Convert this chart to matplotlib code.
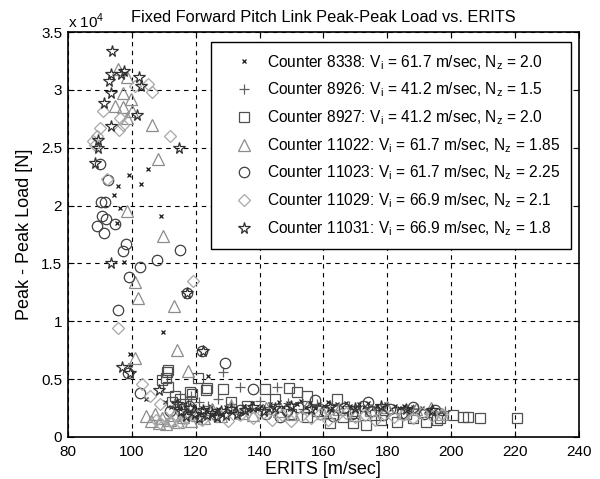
import matplotlib
matplotlib.use('Agg')
import matplotlib.pyplot as plt

plt.rcParams['font.family'] = ['Liberation Sans', 'DejaVu Sans']
plt.rcParams['mathtext.fontset'] = 'custom'
plt.rcParams['mathtext.rm'] = 'Liberation Sans'

# peak-peak load is in units of 1e4 N (axis shows "x 10^4")
c8338_x = [105.2, 99.3, 102.9, 95.8, 94.5, 96.3, 109.2, 95.5, 97.7, 109.9, 99.5, 124.0, 99.6, 104.5,
           110.5, 112.3, 113.8, 115.2, 116.7, 118.1, 119.4, 120.6, 121.9, 123.1, 124.4, 125.8, 127.0,
           128.3, 129.5, 130.9, 132.2, 133.6, 135.0, 136.3, 137.8, 139.1, 140.5, 141.9, 143.2, 144.6,
           146.1, 147.5, 148.8, 150.3, 151.7, 153.0, 154.4, 155.9, 157.3, 158.6, 160.1, 161.5, 162.8,
           164.3, 165.7, 167.1, 168.4, 169.9, 171.2, 172.6, 174.0, 175.5, 176.8, 178.2, 179.6, 181.1,
           182.4, 183.8, 185.3, 186.6, 188.0, 189.5, 190.8, 192.2, 193.7, 195.0, 196.4, 197.9]
c8338_y = [2.32, 2.26, 2.19, 2.17, 2.09, 1.98, 1.91, 1.85, 1.51, 0.91, 0.72, 0.53, 0.62, 0.33,
           0.30, 0.26, 0.31, 0.24, 0.28, 0.22, 0.27, 0.20, 0.25, 0.23, 0.27, 0.21, 0.24,
           0.19, 0.26, 0.22, 0.25, 0.20, 0.27, 0.23, 0.29, 0.24, 0.27, 0.22, 0.28, 0.25,
           0.30, 0.26, 0.29, 0.24, 0.28, 0.31, 0.26, 0.29, 0.25, 0.28, 0.27, 0.30, 0.25,
           0.28, 0.26, 0.29, 0.27, 0.25, 0.28, 0.26, 0.29, 0.25, 0.27, 0.26, 0.28, 0.24,
           0.27, 0.25, 0.27, 0.24, 0.26, 0.23, 0.25, 0.22, 0.24, 0.21, 0.23, 0.20]

c8926_x = [128.5, 134.0, 145.5, 118.5, 121.0, 124.0, 127.0, 131.0, 137.0, 140.0, 143.0, 149.0,
           153.5, 158.0, 163.0, 168.0, 173.0, 178.0, 183.0, 188.0, 193.0, 198.0]
c8926_y = [0.56, 0.435, 0.43, 0.35, 0.30, 0.27, 0.33, 0.28, 0.25, 0.31, 0.26, 0.29,
           0.24, 0.28, 0.23, 0.27, 0.22, 0.25, 0.21, 0.24, 0.20, 0.22]

c8927_x = [111.1, 110.7, 109.4, 111.5, 113.5, 118.2, 115.0, 120.8, 123.4, 123.5, 128.7, 141.7,
           149.3, 151.6, 154.8, 164.2, 196.5, 200.7, 203.8, 205.4, 209.0, 220.7, 162.1, 169.4,
           173.4, 178.1, 195.4, 131.0, 136.0, 145.0, 158.0, 166.0, 183.0, 188.0, 192.0, 186.0,
           176.0, 170.0, 155.0, 150.0, 112.5, 116.0, 119.0, 111.5]
c8927_y = [0.56, 0.51, 0.49, 0.43, 0.35, 0.39, 0.33, 0.51, 0.405, 0.42, 0.41, 0.41,
           0.42, 0.39, 0.35, 0.325, 0.16, 0.19, 0.175, 0.17, 0.16, 0.16, 0.12, 0.12,
           0.10, 0.15, 0.15, 0.30, 0.27, 0.33, 0.22, 0.17, 0.13, 0.16, 0.13, 0.20,
           0.19, 0.22, 0.17, 0.20, 0.30, 0.28, 0.37, 0.58]

c11022_x = [95.8, 98.4, 97.2, 94.8, 97.2, 99.8, 100.0, 98.6, 106.3, 108.1, 98.4, 109.9, 101.0,
            102.1, 113.3, 114.1, 101.0, 117.7, 104.5, 106.0, 107.2, 108.5, 109.6, 110.8, 112.0,
            113.3, 114.5, 115.9, 117.2, 118.6, 120.3, 122.5, 125.0, 128.0, 131.0, 134.5, 138.0,
            142.0, 146.0, 150.5, 155.0, 160.0, 165.0, 170.0, 175.0, 180.0, 185.0, 189.0, 193.6, 197.0]
c11022_y = [3.18, 3.11, 2.97, 2.86, 2.85, 2.92, 2.82, 2.76, 2.70, 2.40, 1.95, 1.74, 1.34,
            1.20, 1.13, 0.75, 0.68, 0.57, 0.18, 0.14, 0.20, 0.12, 0.16, 0.11, 0.15,
            0.19, 0.13, 0.17, 0.22, 0.14, 0.19, 0.16, 0.24, 0.18, 0.27, 0.21, 0.19,
            0.25, 0.22, 0.20, 0.26, 0.21, 0.24, 0.19, 0.23, 0.26, 0.21, 0.24, 0.25, 0.20]

c11023_x = [90.1, 92.5, 90.3, 91.6, 90.6, 92.0, 89.2, 94.8, 91.4, 98.2, 97.4, 115.1, 108.0, 102.6,
            99.3, 117.2, 95.8, 98.9, 102.6, 121.9, 129.2, 138.1, 146.4, 126.1, 157.4, 174.1,
            160.5, 163.0, 166.5, 169.0, 172.5, 175.0, 178.5, 181.0, 184.5, 188.0, 191.5, 195.0,
            148.5, 152.0, 112.0, 118.0, 134.0, 142.0]
c11023_y = [2.36, 2.22, 2.03, 2.03, 1.91, 1.88, 1.82, 1.84, 1.76, 1.67, 1.61, 1.62, 1.53, 1.47,
            1.38, 1.24, 1.10, 0.55, 0.38, 0.74, 0.64, 0.41, 0.175, 0.20, 0.32, 0.30,
            0.22, 0.18, 0.25, 0.20, 0.27, 0.22, 0.19, 0.24, 0.21, 0.26, 0.20, 0.23,
            0.22, 0.26, 0.22, 0.27, 0.23, 0.20]

c11029_x = [105.2, 106.3, 91.1, 96.3, 97.4, 96.1, 90.1, 89.2, 88.0, 112.0, 88.5, 101.0, 92.2,
            119.3, 95.8, 103.1, 105.7, 108.9, 107.5, 109.0, 110.5, 112.0, 113.5, 115.0, 117.0,
            119.5, 122.0, 126.0, 130.0, 134.0, 138.0, 141.0, 144.0, 147.0, 150.0, 153.0, 156.0,
            159.0, 161.5, 164.0, 167.0, 170.0, 173.0, 176.0, 179.0, 182.0, 185.0, 188.0, 191.0,
            194.0, 197.0]
c11029_y = [3.05, 2.98, 2.82, 2.76, 2.70, 2.65, 2.67, 2.60, 2.56, 2.60, 2.52, 3.03, 2.23,
            1.35, 0.94, 0.46, 0.35, 0.28, 0.15, 0.12, 0.17, 0.14, 0.18, 0.13, 0.16,
            0.20, 0.15, 0.18, 0.14, 0.19, 0.16, 0.21, 0.15, 0.19, 0.14, 0.18, 0.16,
            0.20, 0.15, 0.18, 0.21, 0.17, 0.19, 0.15, 0.20, 0.17, 0.19, 0.16, 0.21,
            0.18, 0.20]

c11031_x = [93.7, 93.5, 93.0, 96.6, 97.7, 102.4, 102.8, 93.4, 91.4, 101.8, 93.5, 89.5, 89.5,
            114.9, 88.5, 93.5, 117.2, 96.9, 99.5, 122.4, 108.6, 114.1, 115.5, 117.0, 118.4,
            119.8, 121.0, 122.3, 123.7, 125.1, 126.6, 128.0, 129.5, 131.2, 133.0, 135.4, 138.0,
            141.5, 145.0, 150.0, 156.0, 162.0, 170.0, 178.0, 186.0, 194.0]
c11031_y = [3.34, 3.14, 3.08, 3.14, 3.16, 3.11, 3.03, 2.97, 2.89, 2.78, 2.69, 2.57, 2.50,
            2.50, 2.37, 1.50, 1.24, 0.60, 0.55, 0.74, 0.405, 0.28, 0.22, 0.18, 0.25,
            0.20, 0.16, 0.23, 0.19, 0.21, 0.17, 0.22, 0.19, 0.24, 0.20, 0.23, 0.26,
            0.22, 0.25, 0.27, 0.24, 0.26, 0.25, 0.27, 0.24, 0.23]

labels = ['Counter 8338: V$_\\mathregular{i}$ = 61.7 m/sec, N$_\\mathregular{z}$ = 2.0',
          'Counter 8926: V$_\\mathregular{i}$ = 41.2 m/sec, N$_\\mathregular{z}$ = 1.5',
          'Counter 8927: V$_\\mathregular{i}$ = 41.2 m/sec, N$_\\mathregular{z}$ = 2.0',
          'Counter 11022: V$_\\mathregular{i}$ = 61.7 m/sec, N$_\\mathregular{z}$ = 1.85',
          'Counter 11023: V$_\\mathregular{i}$ = 61.7 m/sec, N$_\\mathregular{z}$ = 2.25',
          'Counter 11029: V$_\\mathregular{i}$ = 66.9 m/sec, N$_\\mathregular{z}$ = 2.1',
          'Counter 11031: V$_\\mathregular{i}$ = 66.9 m/sec, N$_\\mathregular{z}$ = 1.8']

fig = plt.figure(figsize=(6, 4.79), dpi=100)
ax = fig.add_axes([0.113, 0.088, 0.852, 0.845])

# marker, size, colour
styles = [('x', 3.5, '#1a1a1a'), ('+', 6.5, '#606060'), ('s', 7, '#505050'),
          ('^', 8, '#8c8c8c'), ('o', 7.5, '#404040'), ('D', 6.5, '#a8a8a8'), ('*', 8.5, '#303030')]
series = [(c8338_x, c8338_y), (c8926_x, c8926_y), (c8927_x, c8927_y), (c11022_x, c11022_y),
          (c11023_x, c11023_y), (c11029_x, c11029_y), (c11031_x, c11031_y)]

for (xs, ys), (m, ms, col), lab in zip(series, styles, labels):
    ax.plot(xs, ys, linestyle='none', marker=m, markersize=ms, markerfacecolor='none',
            markeredgecolor=col, markeredgewidth=0.9, label=lab)

ax.set_xlim(80, 240)
ax.set_ylim(0, 3.5)
ax.set_xticks(range(80, 241, 20))
ax.set_yticks([0, 0.5, 1, 1.5, 2, 2.5, 3, 3.5])
ax.set_yticklabels(['0', '0.5', '1', '1.5', '2', '2.5', '3', '3.5'])
ax.grid(True, color='black', linestyle=(0, (4, 4)), linewidth=0.8)
ax.tick_params(direction='in', top=True, right=True, labelsize=11, length=4)
ax.tick_params(axis='x', pad=6)
ax.tick_params(axis='y', pad=4)
for sp in ax.spines.values():
    sp.set_linewidth(1.2)

ax.set_xlabel('ERITS [m/sec]', fontsize=13, labelpad=1)
ax.set_ylabel('Peak - Peak Load [N]', fontsize=13, labelpad=6)
ax.set_title('Fixed Forward Pitch Link Peak-Peak Load vs. ERITS', fontsize=11.8, pad=7)
fig.text(0.113, 0.955, 'x 10$^\\mathregular{4}$', fontsize=11, ha='left', va='center')

leg = ax.legend(loc='upper right', bbox_to_anchor=(571 / 600, 1 - 42 / 479),
                bbox_transform=fig.transFigure, borderaxespad=0, fancybox=False,
                framealpha=1, edgecolor='black', fontsize=11.2, labelspacing=0.58,
                handletextpad=0.1, borderpad=0.7, handlelength=2.8)
leg.get_frame().set_linewidth(1.0)

fig.savefig('out.png', dpi=100)
